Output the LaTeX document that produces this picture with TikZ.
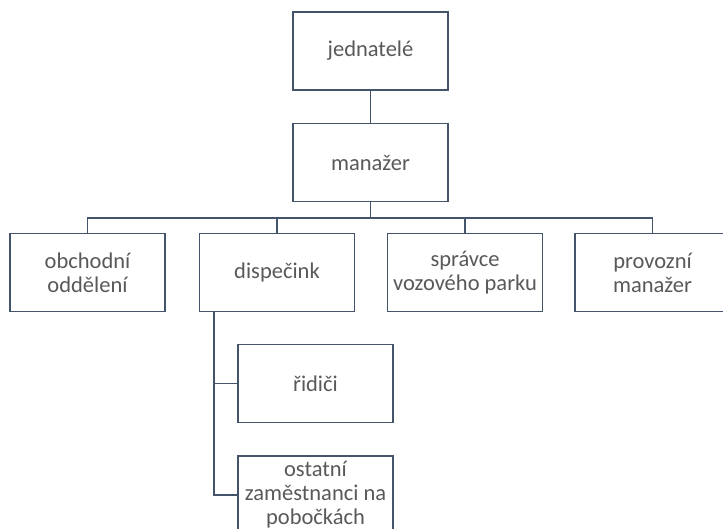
\documentclass[tikz,border=0pt]{standalone}
\usepackage{fontspec}
\setmainfont{Carlito}
\usepackage{tikz}

\definecolor{linegray}{HTML}{44546A}
\definecolor{textgray}{HTML}{595959}

\tikzset{
	unit/.style={shape=rectangle, draw=linegray, line width=1.3pt, fill=white,
		minimum width=155pt, minimum height=78pt, inner sep=1pt,
		align=center, text=textgray, font=\fontsize{22.5}{24}\selectfont},
	link/.style={-, draw=linegray, line width=1.3pt}
}

\begin{document}
\begin{tikzpicture}[x=1pt, y=-1pt]
	
	\useasboundingbox (0, 0) rectangle (723, 529);
	
	\node[unit] (jed)  at (370.5, 51)    {jednatelé};
	\node[unit] (man)  at (370.5, 162.5) {manažer};
	\node[unit] (obch) at (87.5, 272.5)  {obchodní\\oddělení};
	\node[unit] (disp) at (277, 272.5)   {dispečink};
	\node[unit] (spr)  at (465, 272.5)   {správce\\vozového parku};
	\node[unit] (prov) at (652.5, 272.5) {provozní\\manažer};
	\node[unit] (rid)  at (315.5, 383.5) {řidiči};
	\node[unit] (ost)  at (315.5, 495)   {ostatní\\zaměstnanci na\\pobočkách};
	
	\coordinate (bar)   at (370.5, 218);
	\coordinate (spine) at (214, 311);
	
	\path[link] (jed) edge (man);
	\draw[link] (man.south) -- (bar) -| (obch.north);
	\draw[link] (bar) -| (disp.north);
	\draw[link] (bar) -| (spr.north);
	\draw[link] (bar) -| (prov.north);
	\draw[link] (spine) |- (rid.west);
	\draw[link] (spine) |- (ost.west);
	
\end{tikzpicture}
\end{document}
